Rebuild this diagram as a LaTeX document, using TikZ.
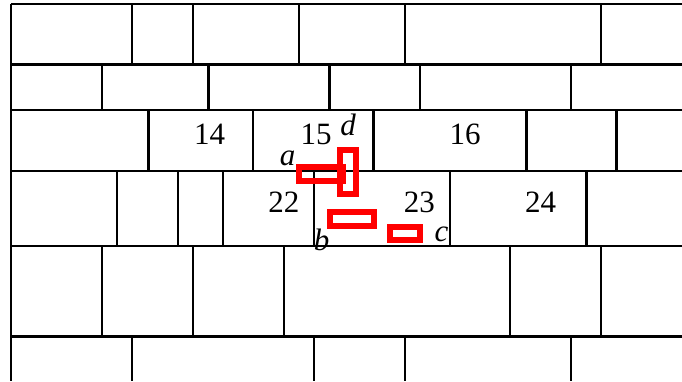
\documentclass[tikz,border=0pt]{standalone}
\usepackage{fontspec}
\setmainfont{Liberation Serif}
\usetikzlibrary{positioning}

\begin{document}
\begin{tikzpicture}[x=1pt, y=-1pt, line width=2.4pt,
    num/.style={font=\fontsize{31}{31}\selectfont, inner sep=0pt, anchor=base},
    lbl/.style={num, font=\fontsize{31}{31}\selectfont\itshape},
    cut/.style={draw=red, line width=6pt, inner sep=0pt}]
  \useasboundingbox (0,0) rectangle (682,381);
  % courses of the wall
  \foreach \y in {4,64.3,109.7,171,245.7,336.3}
    \draw (10.9,\y) -- (682,\y);
  \draw (10.9,4) -- (10.9,381);
  % joints, row by row
  \foreach \x in {132.2,192.7,298.8,405,601} \draw (\x,4) -- (\x,64.3);
  \foreach \x in {102.2,208.4,329.3,420.2,571.1} \draw (\x,64.3) -- (\x,109.7);
  \foreach \x in {148.3,253.2,373.6,526.3,616.4} \draw (\x,109.7) -- (\x,171);
  \foreach \x in {117,177.9,222.7,314,449.8,586.3} \draw (\x,171) -- (\x,245.7);
  \foreach \x in {102.2,192.7,284,509.8,601.1} \draw (\x,245.7) -- (\x,336.3);
  \foreach \x in {132.2,314,405,571.1} \draw (\x,336.3) -- (\x,381);
  % brick numbers
  \node[num] (n14) at (209.6,144.3) {14};
  \node[num] (n15) at (316,144.3) {15};
  \node[num] (n16) at (465,144.3) {16};
  \node[num] (n22) at (283.8,212.3) {22};
  \node[num] (n23) at (419.3,212.3) {23};
  \node[num] (n24) at (540.7,212.3) {24};
  % marked spots
  \node[cut, minimum width=44pt, minimum height=14pt] (cuta) at (321,174.3) {};
  \node[cut, minimum width=15.7pt, minimum height=44pt] (cutd) at (348.2,172.3) {};
  \node[cut, minimum width=44.6pt, minimum height=13.7pt] (cutb) at (352,219.2) {};
  \node[cut, minimum width=29.4pt, minimum height=13.3pt] (cutc) at (405,233.7) {};
  \node[lbl] (la) at (287.7,165) {a};
  \node[lbl] (ld) at (348,135) {d};
  \node[lbl] (lb) at (321.7,250) {b};
  \node[lbl] (lc) at (441.5,241.7) {c};
\end{tikzpicture}
\end{document}
